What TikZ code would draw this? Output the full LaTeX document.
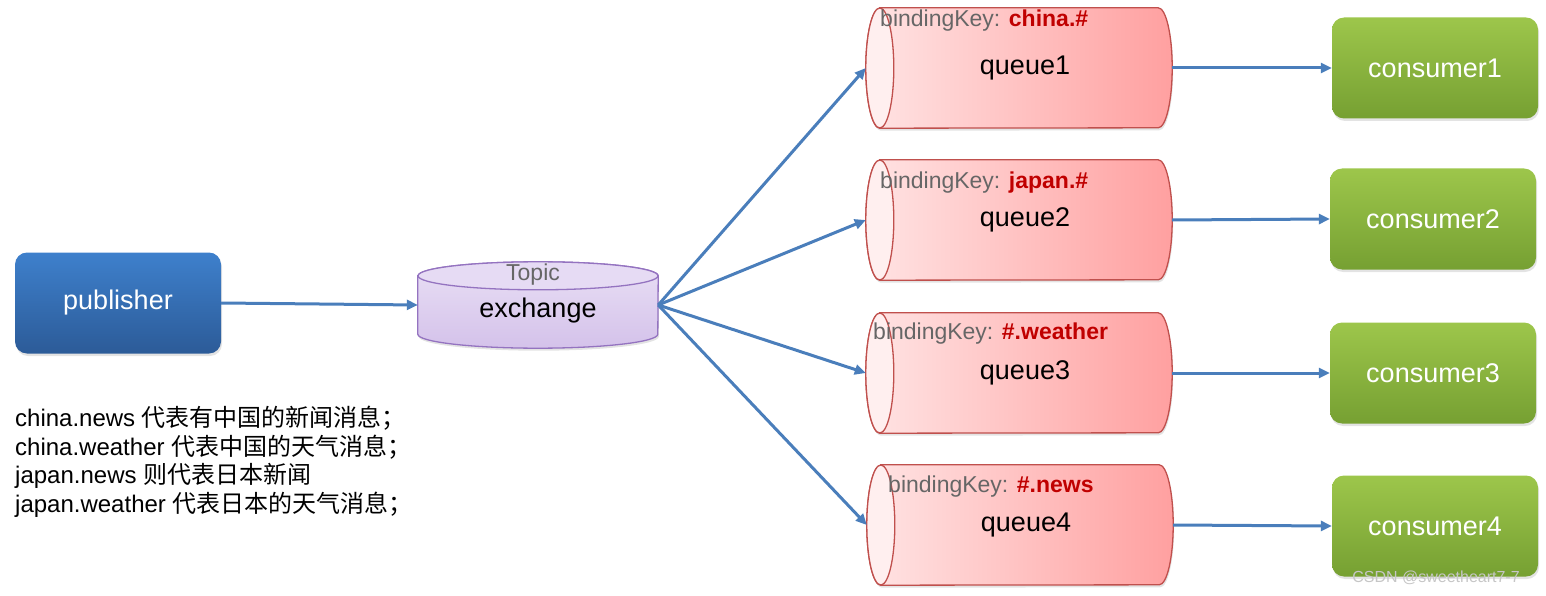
\documentclass[tikz,border=0pt]{standalone}
\usepackage{fontspec}
\setmainfont{Liberation Sans}
\newfontfamily\cjk{Noto Sans CJK SC}
\usetikzlibrary{arrows.meta,shadows,calc,backgrounds}
\definecolor{pubtop}{HTML}{3E80CC}
\definecolor{pubbot}{HTML}{2C5B98}
\definecolor{contop}{HTML}{9DC64B}
\definecolor{conbot}{HTML}{76A032}
\definecolor{qleft}{HTML}{FFE4E4}
\definecolor{qright}{HTML}{FFA0A0}
\definecolor{qface}{HTML}{FFEFEF}
\definecolor{qborder}{HTML}{C0504D}
\definecolor{extop}{HTML}{E9DFF5}
\definecolor{exbot}{HTML}{D4C2EA}
\definecolor{exface}{HTML}{E6DBF4}
\definecolor{exborder}{HTML}{9473C0}
\definecolor{linkblue}{HTML}{4A7EBB}
\definecolor{keygray}{HTML}{666666}
\definecolor{keyred}{HTML}{C00000}
\tikzset{
  softshadow/.style={drop shadow={opacity=0.22, shadow xshift=1pt, shadow yshift=-2.5pt}},
  box/.style={rounded corners=12pt, minimum width=206pt, minimum height=101pt,
    text=white, font=\fontsize{27}{27}\selectfont, softshadow},
  pubbox/.style={box, top color=pubtop, bottom color=pubbot},
  conbox/.style={box, top color=contop, bottom color=conbot},
  queue/.style={minimum width=306pt, minimum height=120pt, inner sep=0pt,
    font=\fontsize{27}{27}\selectfont},
  exbox/.style={minimum width=240pt, minimum height=86pt, inner sep=0pt},
  qbody/.style={draw=qborder, line width=1.3pt, left color=qleft, right color=qright, softshadow},
  exbody/.style={draw=exborder, line width=1.3pt, top color=extop, bottom color=exbot, softshadow},
  link/.style={draw=linkblue, line width=3pt, -{Triangle[length=11pt,width=10pt]}},
  keytext/.style={anchor=west, inner sep=0pt, text=keygray, font=\fontsize{23}{23}\selectfont}
}
\newcommand{\keyval}[1]{\textcolor{keyred}{\bfseries #1}}
% horizontal cylinder behind a queue node
\newcommand{\queuecan}[1]{%
  \shade[qbody] ($(#1.north west)+(14,0)$) -- ($(#1.north east)+(-14,0)$)
    arc[start angle=-90, end angle=90, x radius=14, y radius=60]
    -- ($(#1.south west)+(14,0)$)
    arc[start angle=90, end angle=270, x radius=14, y radius=60] -- cycle;
  \draw[draw=qborder, line width=1.3pt, fill=qface] ($(#1.west)+(14,0)$) ellipse [x radius=14, y radius=60];}
\begin{document}
\begin{tikzpicture}[x=1pt,y=-1pt]
\useasboundingbox (0,0) rectangle (1546,596);
\node[pubbox] (pub) at (118,303) {publisher};
\node[exbox] (ex) at (538,305) {};
\node[text=keygray, font=\fontsize{23}{23}\selectfont] (topic) at (533,275) {Topic};
\node[font=\fontsize{27}{27}\selectfont] (exname) at (538,311) {exchange};

\node[queue] (q1) at (1019,68) {\hspace*{12pt}queue1};
\node[queue] (q2) at (1019,220) {\hspace*{12pt}queue2};
\node[queue] (q3) at (1019,373) {\hspace*{12pt}queue3};
\node[queue] (q4) at (1020,525) {\hspace*{12pt}queue4};
\node[keytext] (k1) at (880,21) {bindingKey: \keyval{china.\#}};
\node[keytext] (k2) at (880,183) {bindingKey: \keyval{japan.\#}};
\node[keytext] (k3) at (873,334) {bindingKey: \keyval{\#.weather}};
\node[keytext] (k4) at (888,487) {bindingKey: \keyval{\#.news}};

\node[conbox] (c1) at (1435,68) {consumer1};
\node[conbox] (c2) at (1433,219) {consumer2};
\node[conbox] (c3) at (1433,373) {consumer3};
\node[conbox] (c4) at (1435,526) {consumer4};

\begin{scope}[on background layer]
\shade[exbody] ($(ex.north west)+(0,14)$) -- ($(ex.south west)+(0,-14)$)
  arc[start angle=180, end angle=0, x radius=120, y radius=14]
  -- ($(ex.north east)+(0,14)$)
  arc[start angle=0, end angle=-180, x radius=120, y radius=14] -- cycle;
\draw[draw=exborder, line width=1.3pt, fill=exface] ($(ex.north)+(0,14)$) ellipse [x radius=120, y radius=14];
\queuecan{q1}
\queuecan{q2}
\queuecan{q3}
\queuecan{q4}
\end{scope}

\draw[link] (pub.east) -- (ex.west);
\draw[link] (ex.east) -- (q1.west);
\draw[link] (ex.east) -- (q2.west);
\draw[link] (ex.east) -- (q3.west);
\draw[link] (ex.east) -- (q4.west);
\draw[link] (q1.east) -- (c1.west);
\draw[link] (q2.east) -- (c2.west);
\draw[link] (q3.east) -- (c3.west);
\draw[link] (q4.east) -- (c4.west);

\node[anchor=north west, align=left, inner sep=0pt, font=\fontsize{24}{28.5}\selectfont] (notes) at (15,406)
  {china.news {\cjk 代表有中国的新闻消息；}\\
   china.weather {\cjk 代表中国的天气消息；}\\
   japan.news {\cjk 则代表日本新闻}\\
   japan.weather {\cjk 代表日本的天气消息；}};
\node[text=gray!45, font=\fontsize{16}{16}\selectfont] (mark) at (1436,578) {CSDN @sweetheart7-7};
\end{tikzpicture}
\end{document}
